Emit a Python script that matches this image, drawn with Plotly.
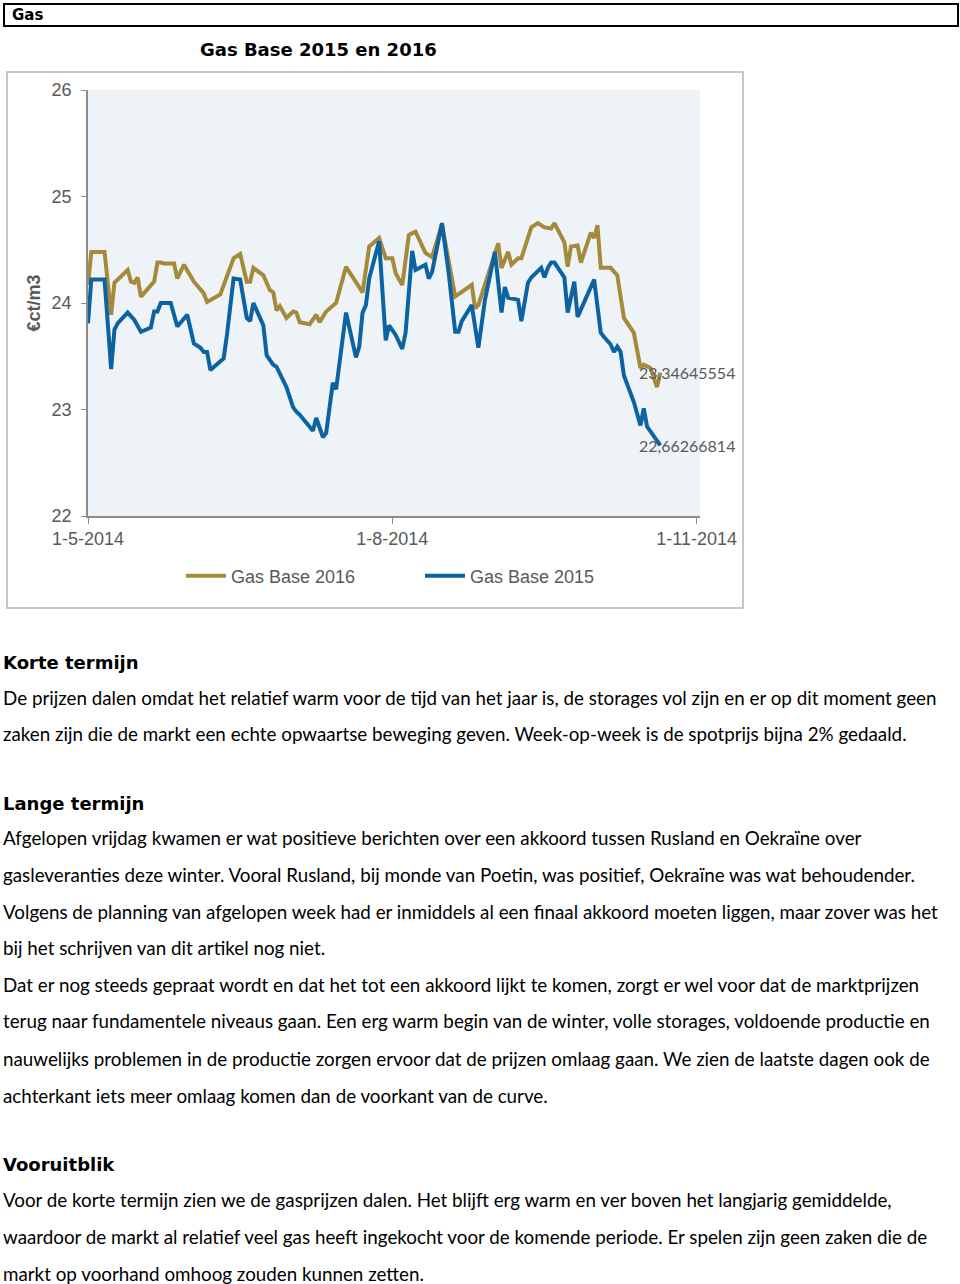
import plotly.graph_objects as go

W, H = 960, 1284

# ---------------- data ----------------
dates_2016 = [
    "2014-05-01", "2014-05-02", "2014-05-06", "2014-05-08", "2014-05-09", "2014-05-13", "2014-05-14", "2014-05-15", "2014-05-16", "2014-05-17",
    "2014-05-21", "2014-05-22", "2014-05-23", "2014-05-24", "2014-05-27", "2014-05-28", "2014-05-30", "2014-06-02", "2014-06-05", "2014-06-06",
    "2014-06-10", "2014-06-14", "2014-06-16", "2014-06-18", "2014-06-19", "2014-06-20", "2014-06-23", "2014-06-25", "2014-06-26", "2014-06-27",
    "2014-06-28", "2014-06-30", "2014-07-02", "2014-07-03", "2014-07-04", "2014-07-07", "2014-07-09", "2014-07-10", "2014-07-12", "2014-07-15",
    "2014-07-18", "2014-07-23", "2014-07-25", "2014-07-28", "2014-07-30", "2014-08-01", "2014-08-02", "2014-08-04", "2014-08-06", "2014-08-08",
    "2014-08-11", "2014-08-13", "2014-08-16", "2014-08-18", "2014-08-20", "2014-08-25", "2014-08-26", "2014-08-27", "2014-09-02", "2014-09-03",
    "2014-09-05", "2014-09-06", "2014-09-08", "2014-09-09", "2014-09-12", "2014-09-14", "2014-09-16", "2014-09-18", "2014-09-19", "2014-09-22",
    "2014-09-23", "2014-09-24", "2014-09-26", "2014-09-27", "2014-09-30", "2014-10-01", "2014-10-02", "2014-10-03", "2014-10-06", "2014-10-08",
    "2014-10-10", "2014-10-13", "2014-10-15", "2014-10-16", "2014-10-18", "2014-10-20", "2014-10-21",
]
gas_2016 = [
    24.17, 24.48, 24.48, 23.89, 24.19, 24.31, 24.20, 24.19, 24.24, 24.06,
    24.20, 24.38, 24.38, 24.37, 24.37, 24.23, 24.36, 24.20, 24.09, 24.01,
    24.08, 24.42, 24.46, 24.20, 24.20, 24.33, 24.26, 24.12, 24.10, 23.93,
    23.97, 23.86, 23.92, 23.91, 23.82, 23.80, 23.89, 23.82, 23.92, 24.00,
    24.34, 24.10, 24.53, 24.61, 24.42, 24.42, 24.28, 24.17, 24.64, 24.67,
    24.47, 24.43, 24.74, 24.42, 24.06, 24.17, 23.95, 23.98, 24.56, 24.33,
    24.48, 24.36, 24.42, 24.42, 24.71, 24.75, 24.71, 24.70, 24.75, 24.57,
    24.34, 24.53, 24.54, 24.38, 24.66, 24.61, 24.73, 24.33, 24.33, 24.26,
    23.86, 23.72, 23.39, 23.42, 23.39, 23.21, 23.34645554,
]

dates_2015 = [
    "2014-05-01", "2014-05-02", "2014-05-06", "2014-05-08", "2014-05-09", "2014-05-10", "2014-05-13", "2014-05-15", "2014-05-17", "2014-05-20",
    "2014-05-21", "2014-05-22", "2014-05-23", "2014-05-26", "2014-05-28", "2014-05-31", "2014-06-02", "2014-06-04", "2014-06-05", "2014-06-06",
    "2014-06-07", "2014-06-11", "2014-06-12", "2014-06-14", "2014-06-16", "2014-06-18", "2014-06-19", "2014-06-20", "2014-06-23", "2014-06-24",
    "2014-06-26", "2014-06-27", "2014-06-30", "2014-07-02", "2014-07-03", "2014-07-04", "2014-07-08", "2014-07-09", "2014-07-11", "2014-07-12",
    "2014-07-14", "2014-07-15", "2014-07-18", "2014-07-21", "2014-07-22", "2014-07-23", "2014-07-24", "2014-07-25", "2014-07-28", "2014-07-30",
    "2014-07-31", "2014-08-02", "2014-08-04", "2014-08-05", "2014-08-07", "2014-08-08", "2014-08-11", "2014-08-12", "2014-08-13", "2014-08-16",
    "2014-08-18", "2014-08-20", "2014-08-21", "2014-08-22", "2014-08-25", "2014-08-27", "2014-08-29", "2014-09-01", "2014-09-03", "2014-09-04",
    "2014-09-05", "2014-09-08", "2014-09-09", "2014-09-11", "2014-09-12", "2014-09-15", "2014-09-16", "2014-09-17", "2014-09-18", "2014-09-19",
    "2014-09-22", "2014-09-23", "2014-09-25", "2014-09-26", "2014-10-01", "2014-10-03", "2014-10-04", "2014-10-06", "2014-10-07", "2014-10-08",
    "2014-10-09", "2014-10-10", "2014-10-13", "2014-10-15", "2014-10-16", "2014-10-17", "2014-10-21",
]
gas_2015 = [
    23.81, 24.22, 24.22, 23.38, 23.75, 23.81, 23.91, 23.84, 23.73, 23.77,
    23.92, 23.92, 24.00, 24.00, 23.78, 23.89, 23.62, 23.58, 23.54, 23.54,
    23.37, 23.48, 23.70, 24.23, 24.22, 23.86, 23.83, 24.00, 23.79, 23.51,
    23.42, 23.40, 23.21, 23.02, 22.98, 22.95, 22.80, 22.92, 22.74, 22.78,
    23.25, 23.19, 23.91, 23.49, 23.59, 23.91, 23.98, 24.23, 24.58, 23.65,
    23.79, 23.70, 23.57, 23.72, 24.49, 24.31, 24.36, 24.23, 24.29, 24.75,
    24.29, 23.73, 23.73, 23.83, 23.98, 23.58, 24.03, 24.48, 23.91, 24.15,
    24.05, 24.03, 23.83, 24.19, 24.24, 24.33, 24.24, 24.33, 24.38, 24.38,
    24.24, 23.91, 24.20, 23.87, 24.22, 23.72, 23.68, 23.61, 23.54, 23.59,
    23.54, 23.32, 23.07, 22.85, 23.01, 22.84, 22.66266814,
]

series_names = ["Gas Base 2016", "Gas Base 2015"]
series_colors = ["#A68A3B", "#0D63A1"]
chart_title = "Gas Base 2015 en 2016"
y_title = "€ct/m3"
y_ticks = [22, 23, 24, 25, 26]
x_ticks = ["2014-05-01", "2014-08-01", "2014-11-01"]
x_ticklabels = ["1-5-2014", "1-8-2014", "1-11-2014"]

section_header = "Gas"
text_blocks = [
    ("Korte termijn", [
        "De prijzen dalen omdat het relatief warm voor de tijd van het jaar is, de storages vol zijn en er op dit moment geen",
        "zaken zijn die de markt een echte opwaartse beweging geven. Week-op-week is de spotprijs bijna 2% gedaald.",
    ]),
    ("Lange termijn", [
        "Afgelopen vrijdag kwamen er wat positieve berichten over een akkoord tussen Rusland en Oekraïne over",
        "gasleveranties deze winter. Vooral Rusland, bij monde van Poetin, was positief, Oekraïne was wat behoudender.",
        "Volgens de planning van afgelopen week had er inmiddels al een finaal akkoord moeten liggen, maar zover was het",
        "bij het schrijven van dit artikel nog niet.",
        "Dat er nog steeds gepraat wordt en dat het tot een akkoord lijkt te komen, zorgt er wel voor dat de marktprijzen",
        "terug naar fundamentele niveaus gaan. Een erg warm begin van de winter, volle storages, voldoende productie en",
        "nauwelijks problemen in de productie zorgen ervoor dat de prijzen omlaag gaan. We zien de laatste dagen ook de",
        "achterkant iets meer omlaag komen dan de voorkant van de curve.",
    ]),
    ("Vooruitblik", [
        "Voor de korte termijn zien we de gasprijzen dalen. Het blijft erg warm en ver boven het langjarig gemiddelde,",
        "waardoor de markt al relatief veel gas heeft ingekocht voor de komende periode. Er spelen zijn geen zaken die de",
        "markt op voorhand omhoog zouden kunnen zetten.",
    ]),
]


# ---------------- helpers (window pixel -> paper fraction) ----------------
def px(x):
    return x / W


def py(y):
    return 1 - y / H


GRAY_TXT = "#595959"
AXIS_GRAY = "#8c8c8c"

fig = go.Figure()
for name, dates, vals, color in [
    (series_names[0], dates_2016, gas_2016, series_colors[0]),
    (series_names[1], dates_2015, gas_2015, series_colors[1]),
]:
    fig.add_trace(go.Scatter(
        x=dates, y=vals, mode="lines", name=name,
        line=dict(color=color, width=4),
        hoverinfo="x+y",
    ))

annotations = []
# end-of-series value labels
for dates, vals in [(dates_2016, gas_2016), (dates_2015, gas_2015)]:
    annotations.append(dict(
        x=dates[-1], y=vals[-1], xref="x", yref="y",
        text=f"{vals[-1]:.8f}".replace(".", ","),
        showarrow=False, xanchor="left", yanchor="middle", xshift=-23,
        font=dict(family="Lato", size=16, color=GRAY_TXT),
    ))

# chart title
annotations.append(dict(
    x=px(318), y=py(50), xref="paper", yref="paper", text=f"<b>{chart_title}</b>",
    showarrow=False, xanchor="center", yanchor="middle",
    font=dict(family="DejaVu Sans", size=18, color="#000000"),
))
# section header
annotations.append(dict(
    x=px(10), y=py(15), xref="paper", yref="paper", text=f"<b>{section_header}</b>",
    showarrow=False, xanchor="left", yanchor="middle",
    font=dict(family="DejaVu Sans", size=15, color="#000000"),
))

# body text
heading_y = [662, 803, 1164]
line_ys = [[697, 733], [837, 874, 911, 947, 984, 1021, 1058, 1095], [1199, 1236, 1273]]
for (head, lines), hy, lys in zip(text_blocks, heading_y, line_ys):
    annotations.append(dict(
        x=px(1), y=py(hy), xref="paper", yref="paper", text=f"<b>{head}</b>",
        showarrow=False, xanchor="left", yanchor="middle",
        font=dict(family="DejaVu Sans", size=18, color="#000000"),
    ))
    for ln, ly in zip(lines, lys):
        annotations.append(dict(
            x=px(1), y=py(ly), xref="paper", yref="paper", text=ln,
            showarrow=False, xanchor="left", yanchor="middle",
            font=dict(family="Lato", size=18.8, color="#000000"),
        ))

shapes = [
    # header box
    dict(type="rect", xref="paper", yref="paper", x0=px(4), x1=px(958), y0=py(4), y1=py(26),
         line=dict(color="#000000", width=2), fillcolor="rgba(0,0,0,0)", layer="below"),
    # chart frame
    dict(type="rect", xref="paper", yref="paper", x0=px(7), x1=px(743), y0=py(72), y1=py(608),
         line=dict(color="#b4b4b4", width=1.5), fillcolor="rgba(0,0,0,0)", layer="below"),
]

fig.update_layout(
    width=W, height=H,
    margin=dict(l=0, r=0, t=0, b=0, autoexpand=False),
    paper_bgcolor="#ffffff",
    plot_bgcolor="#eef3f8",
    showlegend=True,
    legend=dict(
        orientation="h", x=px(181), y=py(576), xanchor="left", yanchor="middle",
        font=dict(family="Liberation Sans", size=18, color=GRAY_TXT),
        entrywidth=184, entrywidthmode="pixels", bgcolor="rgba(0,0,0,0)",
        itemwidth=40, traceorder="normal",
    ),
    xaxis=dict(
        domain=[px(88), px(700)], type="date", automargin=False,
        range=["2014-05-01", "2014-11-02"],
        tickvals=x_ticks, ticktext=x_ticklabels,
        ticks="outside", ticklen=6, tickcolor=AXIS_GRAY, tickwidth=1,
        showline=True, linecolor=AXIS_GRAY, linewidth=1.5,
        showgrid=False, zeroline=False,
        tickfont=dict(family="Liberation Sans", size=18, color=GRAY_TXT),
        ticklabelstandoff=0,
    ),
    yaxis=dict(
        domain=[py(516), py(90)], automargin=False,
        range=[22, 26], tickvals=y_ticks,
        ticks="outside", ticklen=5, tickcolor=AXIS_GRAY, tickwidth=1,
        showline=True, linecolor=AXIS_GRAY, linewidth=1.5,
        showgrid=False, zeroline=False,
        tickfont=dict(family="Liberation Sans", size=18, color=GRAY_TXT),
        ticklabelstandoff=6,
        title=dict(text=f"<b>{y_title}</b>", standoff=6,
                   font=dict(family="Liberation Sans", size=18, color=GRAY_TXT)),
    ),
    annotations=annotations,
    shapes=shapes,
)

# remove the page's default 8px body margin so the figure fills the window
fig.write_html(
    "out.html",
    config={"displayModeBar": False},
    post_script="document.body.style.margin='0px';",
)
